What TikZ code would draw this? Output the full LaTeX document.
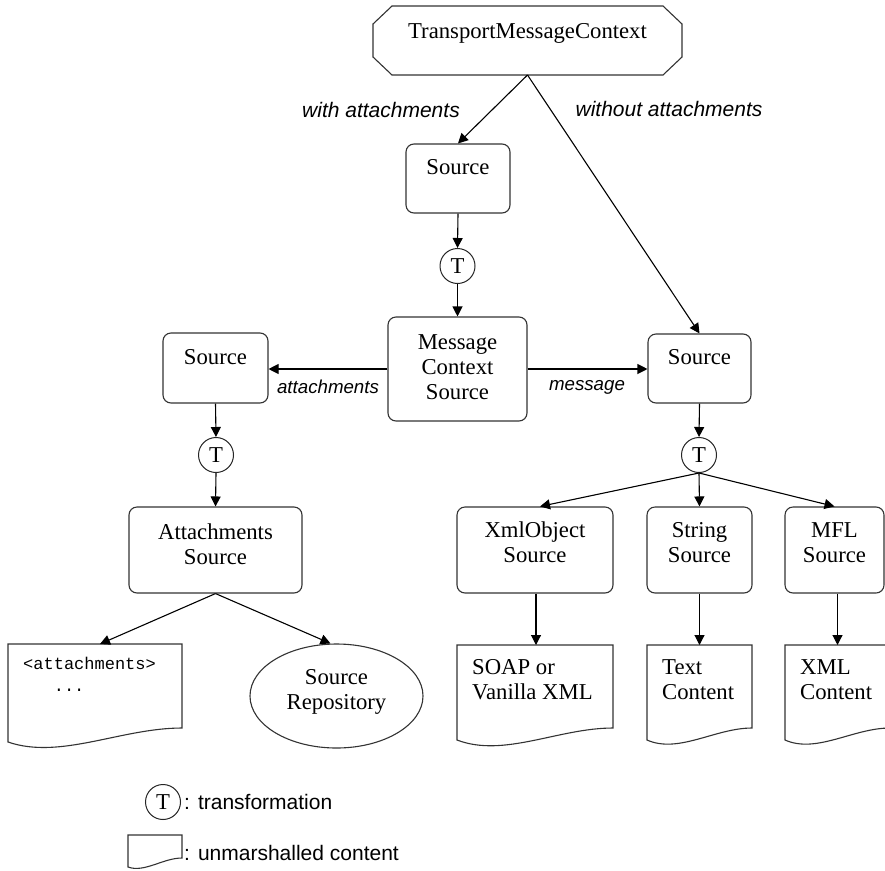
\documentclass[tikz,border=0pt]{standalone}
\usepackage{fontspec}
\setmainfont{Liberation Serif}
\setsansfont{Liberation Sans}
\setmonofont{Liberation Mono}
\usetikzlibrary{arrows.meta,shapes.geometric,calc}

% #1 x-left, #2 y-top, #3 x-right, #4 left height, #5 right height, #6 wave depth
\newcommand\docpath[6]{%
  \draw[docline] (#1,#2) -- (#3,#2) -- (#3,{#2+#5})
    .. controls ({#1+0.65*(#3-#1)},{#2+#5}) and ({#1+0.3*(#3-#1)},{#2+#4+#6}) ..
    (#1,{#2+#4}) -- cycle;}

\tikzset{
  box/.style={draw=black!80, rounded corners=8pt, line width=1.1pt, inner sep=0pt},
  ghost/.style={inner sep=0pt, outer sep=0pt},
  ntext/.style={font=\fontsize{22.7}{25}\selectfont, inner sep=0pt, align=center},
  dtext/.style={font=\fontsize{22.7}{25}\selectfont, inner sep=0pt, align=left, anchor=west},
  mtext/.style={font=\ttfamily\fontsize{17}{22}\selectfont, inner sep=0pt, align=left, anchor=west},
  lbl/.style={font=\sffamily\itshape\fontsize{18.7}{21}\selectfont, inner sep=0pt},
  biglbl/.style={font=\sffamily\itshape\fontsize{21}{23}\selectfont, inner sep=0pt},
  legtext/.style={font=\sffamily\fontsize{21}{23}\selectfont, inner sep=0pt, anchor=west},
  tcirc/.style={draw=black!85, circle, minimum size=35pt, inner sep=0pt, line width=1pt,
                font=\fontsize{22.7}{25}\selectfont, fill=white},
  arr/.style={-{Triangle[length=10pt,width=10pt]}, line width=1.1pt},
  docline/.style={draw=black!80, line width=1.1pt}
}

\begin{document}
\begin{tikzpicture}[x=1pt,y=-1pt]
\fill[white] (0,0) rectangle (885,870);
\useasboundingbox (0,0) rectangle (885,870);
\clip (0,0) rectangle (885,870);

% ---------- TransportMessageContext (octagon) ----------
\node[ghost, minimum width=309pt, minimum height=69pt] (tmc) at (527.5,40.5) {};
\draw[docline]
  ($(tmc.north west)+(19,0)$) -- ($(tmc.north east)+(-19,0)$) --
  ($(tmc.north east)+(0,18)$) -- ($(tmc.south east)+(0,-18)$) --
  ($(tmc.south east)+(-19,0)$) -- ($(tmc.south west)+(19,0)$) --
  ($(tmc.south west)+(0,-18)$) -- ($(tmc.north west)+(0,18)$) -- cycle;
\node[ntext] (tmct) at (527.5,33) {TransportMessageContext};

\node[biglbl] (lwith) at (381,110) {with attachments};
\node[biglbl] (lwithout) at (669,109) {without attachments};

% ---------- top Source ----------
\node[box, minimum width=104pt, minimum height=69pt] (src1) at (458,178.5) {};
\node[ntext] (src1t) at (458,167) {Source};
\node[tcirc] (t1) at (457.5,266) {T};

% ---------- Message Context Source ----------
\node[box, minimum width=139pt, minimum height=104pt] (mcs) at (457.5,369) {};
\node[ntext] (mcst) at (457.5,367.5) {Message\\Context\\Source};

% ---------- left branch ----------
\node[box, minimum width=105pt, minimum height=70pt] (srcL) at (215.5,368) {};
\node[ntext] (srcLt) at (215.5,357) {Source};
\node[tcirc] (tL) at (216,455) {T};
\node[box, minimum width=173pt, minimum height=86pt] (as) at (215.5,550) {};
\node[ntext] (ast) at (215.5,544) {Attachments\\Source};

\docpath{8}{644}{182}{98}{84}{18}
\node[ghost, minimum width=174pt, minimum height=98pt, anchor=north west] (attdoc) at (8,644) {};
\node[mtext] (attdoct) at (23,674) {<attachments>\\\phantom{<<<}...};

\node[ellipse, draw=black!80, line width=1.1pt, minimum width=173pt, minimum height=104pt, inner sep=0pt] (rep) at (336.5,696) {};
\node[ntext] (rept) at (336.5,691.5) {Source\\Repository};

% ---------- right branch ----------
\node[box, minimum width=103pt, minimum height=69pt] (srcR) at (699.5,368.5) {};
\node[ntext] (srcRt) at (699.5,357) {Source};
\node[tcirc] (tR) at (699,455) {T};

\node[box, minimum width=156pt, minimum height=86pt] (xo) at (535,550) {};
\node[ntext] (xot) at (535,542.5) {XmlObject\\Source};
\node[box, minimum width=105pt, minimum height=86pt] (ss) at (699.5,550) {};
\node[ntext] (sst) at (699.5,542.5) {String\\Source};
\node[box, minimum width=99pt, minimum height=86pt] (mfl) at (834.5,550) {};
\node[ntext] (mflt) at (834.5,542.5) {MFL\\Source};

\docpath{457}{645}{613}{95}{83}{18}
\node[ghost, minimum width=156pt, minimum height=95pt, anchor=north west] (soap) at (457,645) {};
\node[dtext] (soapt) at (472,680) {SOAP or\\Vanilla XML};
\docpath{647}{645}{752}{95}{83}{14}
\node[ghost, minimum width=105pt, minimum height=95pt, anchor=north west] (txtdoc) at (647,645) {};
\node[dtext] (txtdoct) at (662,680) {Text\\Content};
\docpath{785}{645}{890}{95}{83}{14}
\node[ghost, minimum width=105pt, minimum height=95pt, anchor=north west] (xmldoc) at (785,645) {};
\node[dtext] (xmldoct) at (800,680) {XML\\Content};

% ---------- connectors ----------
\draw[arr] (tmc.south) -- (src1.north);
\draw[arr] (tmc.south) -- (srcR.north);
\draw[arr] (src1.south) -- (t1.north);
\draw[arr] (t1.south) -- (mcs.north);
\draw[arr] (mcs.west) -- (srcL.east |- mcs.west);
\draw[arr] (mcs.east) -- (srcR.west |- mcs.east);
\node[lbl] (latt) at (328,387) {attachments};
\node[lbl] (lmsg) at (587,387) {message};
\draw[arr] (srcL.south) -- (tL.north);
\draw[arr] (tL.south) -- (as.north);
\draw[arr] (as.south) -- ([xshift=5pt]attdoc.north);
\draw[arr] (as.south) -- ([xshift=-6pt]rep.north);
\draw[arr] (srcR.south) -- (tR.north);
\draw[arr] (tR.south) -- ([xshift=5pt]xo.north);
\draw[arr] (tR.south) -- (ss.north);
\draw[arr] (tR.south) -- (mfl.north);
\draw[arr] ([xshift=1pt]xo.south) -- ([xshift=1pt]xo.south |- soap.north);
\draw[arr] (ss.south) -- (ss.south |- txtdoc.north);
\draw[arr] ([xshift=3pt]mfl.south) -- ([xshift=3pt]mfl.south |- xmldoc.north);

% ---------- legend ----------
\node[tcirc] (legT) at (163,802) {T};
\node[legtext] (legTt) at (184,802) {:\hspace{8pt}transformation};
\docpath{128}{835}{182}{32}{23}{6}
\node[ghost, minimum width=54pt, minimum height=32pt, anchor=north west] (legdoc) at (128,835) {};
\node[legtext] (legdoct) at (184,853) {:\hspace{8pt}unmarshalled content};
\end{tikzpicture}
\end{document}
